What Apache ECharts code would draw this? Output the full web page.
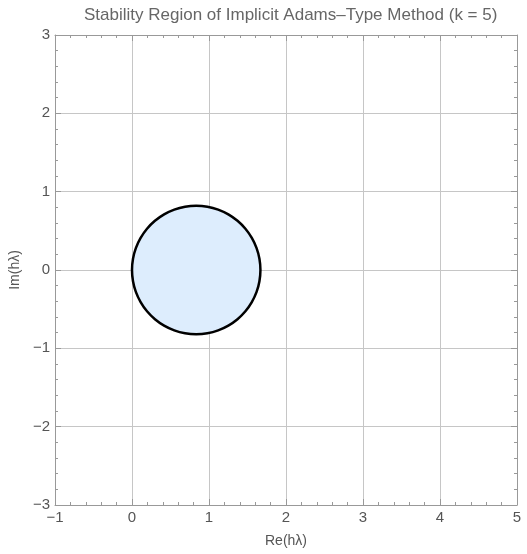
<!DOCTYPE html>
<html>
<head>
<meta charset="utf-8">
<title>Stability Region of Implicit Adams-Type Method (k = 5)</title>
<script src="https://cdn.jsdelivr.net/npm/echarts@6/dist/echarts.min.js"></script>
<style>
  html, body { margin: 0; padding: 0; background: #fff; }
  #chart { width: 527px; height: 554px; }
</style>
</head>
<body>
<div id="chart"></div>
<script>
// Boundary of the stability region in the complex hλ-plane (counter-clockwise)
const reBoundary = [
  1.668, 1.655, 1.618, 1.556, 1.473, 1.370, 1.251, 1.119, 0.979,
  0.834, 0.689, 0.549, 0.417, 0.298, 0.195, 0.112, 0.050, 0.013,
  0.000, 0.013, 0.050, 0.112, 0.195, 0.298, 0.417, 0.549, 0.689,
  0.834, 0.979, 1.119, 1.251, 1.370, 1.473, 1.556, 1.618, 1.655
];
const imBoundary = [
  0.000, 0.143, 0.280, 0.410, 0.527, 0.628, 0.710, 0.771, 0.808,
  0.820, 0.808, 0.771, 0.710, 0.628, 0.527, 0.410, 0.280, 0.143,
  0.000, -0.143, -0.280, -0.410, -0.527, -0.628, -0.710, -0.771, -0.808,
  -0.820, -0.808, -0.771, -0.710, -0.628, -0.527, -0.410, -0.280, -0.143
];

const xTicks = [-1, 0, 1, 2, 3, 4, 5];
const yTicks = [-3, -2, -1, 0, 1, 2, 3];

const titleText = 'Stability Region of Implicit Adams\u2013Type Method (k = 5)';
const xName = 'Re(h\u03bb)';
const yName = 'Im(h\u03bb)';

const FONT = '"Liberation Sans", Arial, sans-serif';
const TEXT = '#555';
const FRAME = '#999';
const GRID = '#c6c6c6';

const chart = echarts.init(document.getElementById('chart'), null, { renderer: 'canvas' });

function fmtTick(v) {
  return v < 0 ? '\u2212' + Math.abs(v) : String(v);
}

function axisBase(ticks, extra) {
  return Object.assign({
    type: 'value',
    min: ticks[0],
    max: ticks[ticks.length - 1],
    interval: ticks[1] - ticks[0],
    axisLine: { show: true, onZero: false, lineStyle: { color: FRAME, width: 1 } },
    axisTick: { show: true, inside: true, length: 6, lineStyle: { color: FRAME } },
    minorTick: { show: true, splitNumber: 5, length: 3, lineStyle: { color: FRAME } },
    splitLine: { show: false },
    axisLabel: { show: false }
  }, extra);
}

const option = {
  animation: false,
  backgroundColor: '#fff',
  title: {
    text: titleText,
    left: 79,
    top: 2,
    textStyle: { fontFamily: FONT, fontSize: 17, fontWeight: 'normal', color: '#666' }
  },
  grid: { left: 55, right: 10, top: 35, bottom: 49, containLabel: false },
  xAxis: [
    axisBase(xTicks, {
      position: 'bottom',
      name: xName,
      nameLocation: 'middle',
      nameGap: 29,
      nameTextStyle: { fontFamily: FONT, fontSize: 14, color: TEXT },
      splitLine: { show: true, lineStyle: { color: GRID, width: 1 } },
      axisLabel: {
        show: true, fontFamily: FONT, fontSize: 15, color: TEXT, margin: 5,
        formatter: fmtTick
      }
    }),
    axisBase(xTicks, { position: 'top' })
  ],
  yAxis: [
    axisBase(yTicks, {
      position: 'left',
      name: yName,
      nameLocation: 'middle',
      nameGap: 29,
      nameRotate: 90,
      nameTextStyle: { fontFamily: FONT, fontSize: 14, color: TEXT },
      splitLine: { show: true, lineStyle: { color: GRID, width: 1 } },
      axisLabel: {
        show: true, fontFamily: FONT, fontSize: 15, color: TEXT, margin: 5,
        formatter: fmtTick
      }
    }),
    axisBase(yTicks, { position: 'right' })
  ],
  series: [
    {
      type: 'custom',
      name: 'stability region',
      xAxisIndex: 0,
      yAxisIndex: 0,
      data: [[0, 0]],
      clip: true,
      renderItem: function (params, api) {
        const pts = reBoundary.map(function (re, i) {
          return api.coord([re, imBoundary[i]]);
        });
        return {
          type: 'polygon',
          shape: { points: pts, smooth: 0.3 },
          style: { fill: '#ddedfd', stroke: '#000', lineWidth: 2.5 }
        };
      }
    }
  ]
};

chart.setOption(option);
</script>
</body>
</html>
